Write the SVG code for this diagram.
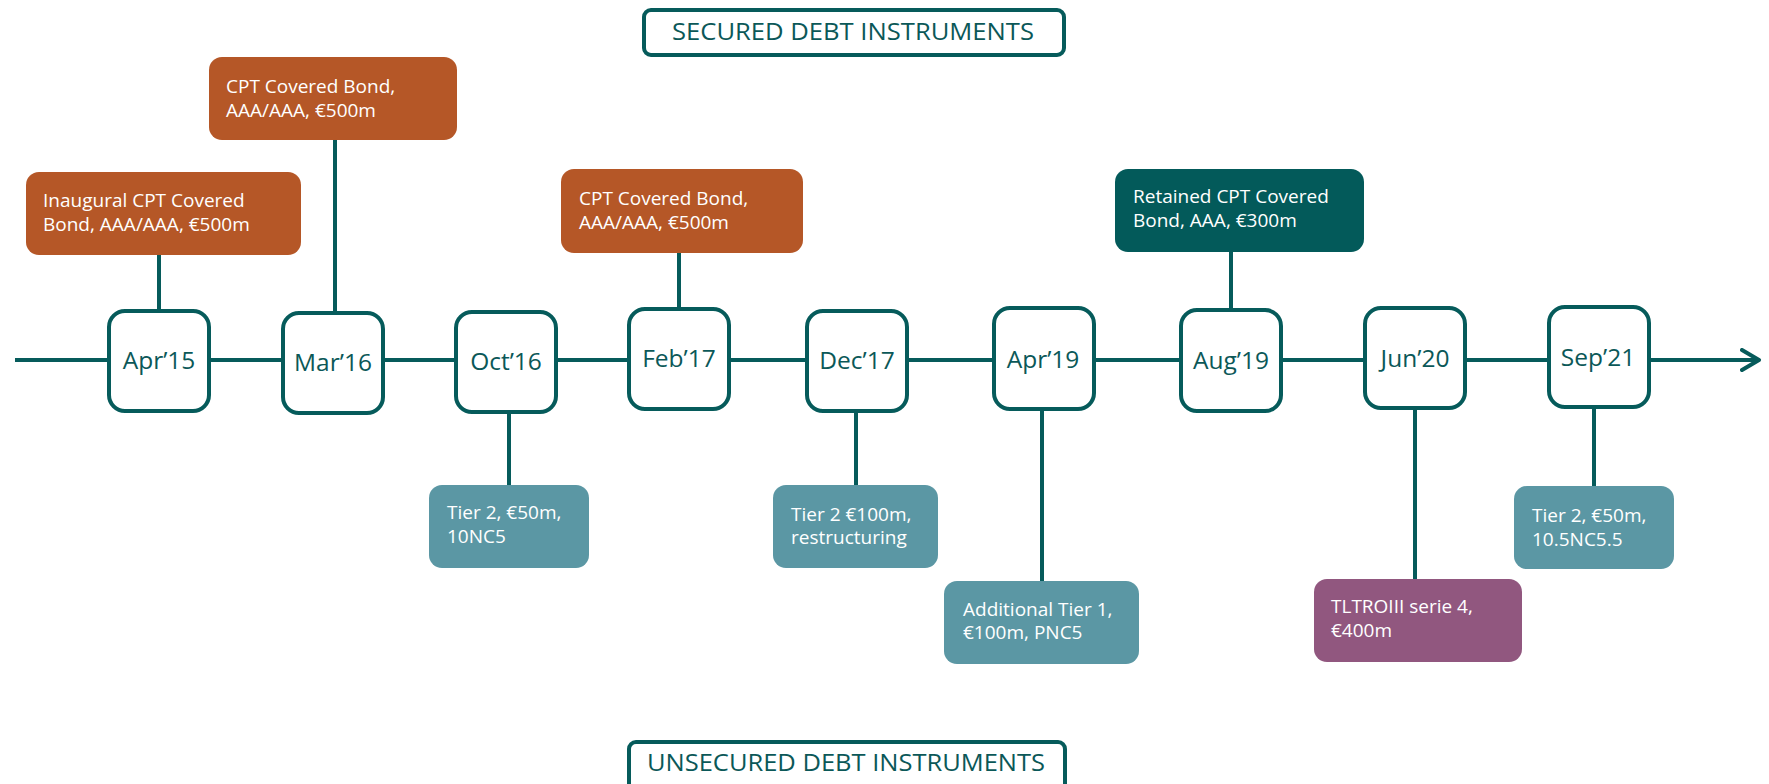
<svg xmlns="http://www.w3.org/2000/svg" width="1769" height="784" viewBox="0 0 1769 784">
<style>
.ln{stroke:#065B5B;stroke-width:4;fill:none}
.date rect{fill:#fff;stroke:#065B5B;stroke-width:4}
.date text{font-family:"Open Sans","Liberation Sans",sans-serif;font-size:24.5px;fill:#0B5858;text-anchor:middle}
.ev text{font-family:"Open Sans","Liberation Sans",sans-serif;font-size:19px;fill:#fff}
.hdr rect{fill:#fff;stroke:#065B5B;stroke-width:4}
.hdr text{font-family:"Open Sans","Liberation Sans",sans-serif;font-size:24.5px;fill:#0B5858;text-anchor:middle}
.or{fill:#B55727}
.dk{fill:#035A5A}
.lt{fill:#5B97A4}
.pu{fill:#91577F}
</style>
<defs>
<marker id="arr" viewBox="0 0 22 24" refX="19" refY="12" markerWidth="22" markerHeight="24" markerUnits="userSpaceOnUse" orient="auto">
<path d="M2,2 L19,12 L2,22" fill="none" stroke="#065B5B" stroke-width="4" stroke-linecap="round" stroke-linejoin="round"/>
</marker>
</defs>

<g id="connectors">
<line class="ln" x1="15" y1="360" x2="1759" y2="360" marker-end="url(#arr)"/>
<line class="ln" x1="159" y1="255" x2="159" y2="311"/>
<line class="ln" x1="335" y1="140" x2="335" y2="313"/>
<line class="ln" x1="679" y1="253" x2="679" y2="309"/>
<line class="ln" x1="1231" y1="252" x2="1231" y2="310"/>
<line class="ln" x1="509" y1="413" x2="509" y2="485"/>
<line class="ln" x1="856" y1="412" x2="856" y2="485"/>
<line class="ln" x1="1042" y1="410" x2="1042" y2="581"/>
<line class="ln" x1="1415" y1="409" x2="1415" y2="579"/>
<line class="ln" x1="1594" y1="408" x2="1594" y2="486"/>
</g>

<g id="hdr-secured" class="hdr">
<rect x="644" y="10" width="420" height="45" rx="7"/>
<text x="853" y="40" textLength="362" lengthAdjust="spacingAndGlyphs">SECURED DEBT INSTRUMENTS</text>
</g>
<g id="hdr-unsecured" class="hdr">
<rect x="629" y="742" width="436" height="52" rx="7"/>
<text x="846" y="771" textLength="398" lengthAdjust="spacingAndGlyphs">UNSECURED DEBT INSTRUMENTS</text>
</g>

<g id="d-apr15" class="date"><rect x="109" y="311" width="100" height="100" rx="16"/><text x="159" y="369">Apr’15</text></g>
<g id="d-mar16" class="date"><rect x="283" y="313" width="100" height="100" rx="16"/><text x="333" y="371">Mar’16</text></g>
<g id="d-oct16" class="date"><rect x="456" y="312" width="100" height="100" rx="16"/><text x="506" y="370">Oct’16</text></g>
<g id="d-feb17" class="date"><rect x="629" y="309" width="100" height="100" rx="16"/><text x="679" y="367">Feb’17</text></g>
<g id="d-dec17" class="date"><rect x="807" y="311" width="100" height="100" rx="16"/><text x="857" y="369">Dec’17</text></g>
<g id="d-apr19" class="date"><rect x="994" y="308" width="100" height="101" rx="16"/><text x="1043" y="368">Apr’19</text></g>
<g id="d-aug19" class="date"><rect x="1181" y="310" width="100" height="101" rx="16"/><text x="1231" y="369">Aug’19</text></g>
<g id="d-jun20" class="date"><rect x="1365" y="308" width="100" height="100" rx="16"/><text x="1415" y="367">Jun’20</text></g>
<g id="d-sep21" class="date"><rect x="1549" y="307" width="100" height="100" rx="16"/><text x="1598" y="366">Sep’21</text></g>

<g id="e-inaugural" class="ev"><rect class="or" x="26" y="172" width="275" height="83" rx="13"/><text x="43" y="207">Inaugural CPT Covered</text><text x="43" y="231">Bond, AAA/AAA, €500m</text></g>
<g id="e-cpt-mar16" class="ev"><rect class="or" x="209" y="57" width="248" height="83" rx="13"/><text x="226" y="93">CPT Covered Bond,</text><text x="226" y="117">AAA/AAA, €500m</text></g>
<g id="e-cpt-feb17" class="ev"><rect class="or" x="561" y="169" width="242" height="84" rx="13"/><text x="579" y="205">CPT Covered Bond,</text><text x="579" y="229">AAA/AAA, €500m</text></g>
<g id="e-retained" class="ev"><rect class="dk" x="1115" y="169" width="249" height="83" rx="13"/><text x="1133" y="203">Retained CPT Covered</text><text x="1133" y="227">Bond, AAA, €300m</text></g>
<g id="e-tier2-oct16" class="ev"><rect class="lt" x="429" y="485" width="160" height="83" rx="13"/><text x="447" y="519">Tier 2, €50m,</text><text x="447" y="543">10NC5</text></g>
<g id="e-tier2-dec17" class="ev"><rect class="lt" x="773" y="485" width="165" height="83" rx="13"/><text x="791" y="521">Tier 2 €100m,</text><text x="791" y="544">restructuring</text></g>
<g id="e-at1" class="ev"><rect class="lt" x="944" y="581" width="195" height="83" rx="13"/><text x="963" y="616">Additional Tier 1,</text><text x="963" y="639">€100m, PNC5</text></g>
<g id="e-tltro" class="ev"><rect class="pu" x="1314" y="579" width="208" height="83" rx="13"/><text x="1331" y="613">TLTROIII serie 4,</text><text x="1331" y="637">€400m</text></g>
<g id="e-tier2-sep21" class="ev"><rect class="lt" x="1514" y="486" width="160" height="83" rx="13"/><text x="1532" y="522">Tier 2, €50m,</text><text x="1532" y="546">10.5NC5.5</text></g>
</svg>
